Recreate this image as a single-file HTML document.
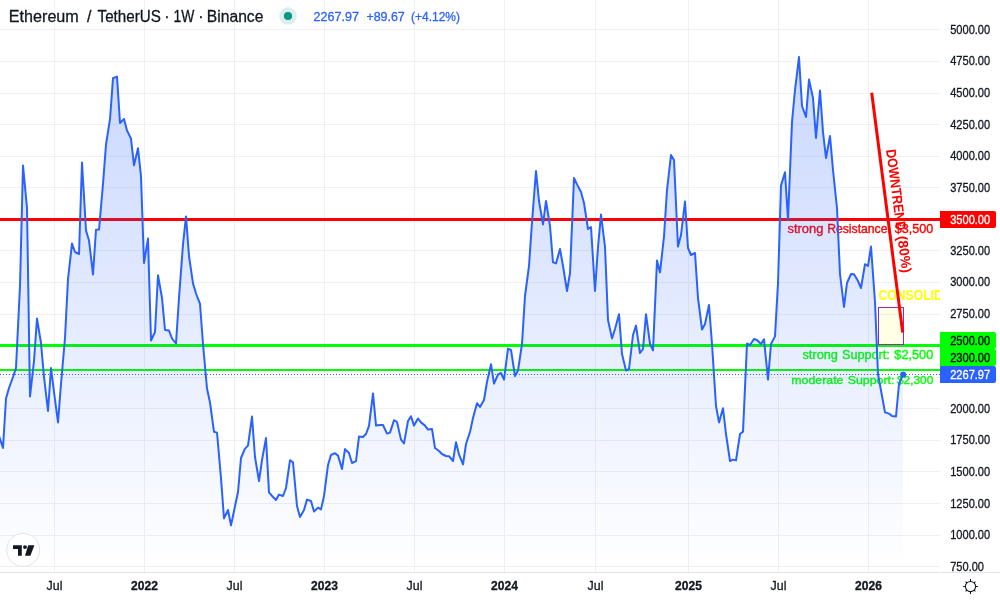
<!DOCTYPE html>
<html lang="en"><head><meta charset="utf-8"><title>Ethereum / TetherUS</title>
<style>
html,body{margin:0;padding:0;background:#fff;}
body{width:1000px;height:600px;overflow:hidden;position:relative;font-family:"Liberation Sans", "DejaVu Sans", sans-serif;}
svg{position:absolute;left:0;top:0;display:block}
text{font-family:"Liberation Sans", "DejaVu Sans", sans-serif;}
.ax{font-size:12px;fill:#131722;stroke:#131722;stroke-width:0.3px;}
.b{font-weight:bold;}
.lbl{stroke-width:0.35px;}
.w{fill:#fff;stroke:#fff;}
.k{fill:#000;stroke:#000;}
</style></head><body>
<svg width="1000" height="600" viewBox="0 0 1000 600">
<defs>
<linearGradient id="ag" gradientUnits="userSpaceOnUse" x1="0" y1="0" x2="0" y2="572">
<stop offset="0" stop-color="#2962ff" stop-opacity="0.28"/>
<stop offset="1" stop-color="#2962ff" stop-opacity="0.0"/>
</linearGradient>
<clipPath id="pane"><rect x="0" y="0" width="940" height="572"/></clipPath>
</defs>
<rect x="0" y="0" width="1000" height="600" fill="#ffffff"/>
<rect x="54" y="0" width="1" height="572" fill="#f0f0f2"/><rect x="144" y="0" width="1" height="572" fill="#f0f0f2"/><rect x="234" y="0" width="1" height="572" fill="#f0f0f2"/><rect x="324" y="0" width="1" height="572" fill="#f0f0f2"/><rect x="414" y="0" width="1" height="572" fill="#f0f0f2"/><rect x="504" y="0" width="1" height="572" fill="#f0f0f2"/><rect x="595" y="0" width="1" height="572" fill="#f0f0f2"/><rect x="688" y="0" width="1" height="572" fill="#f0f0f2"/><rect x="778" y="0" width="1" height="572" fill="#f0f0f2"/><rect x="868" y="0" width="1" height="572" fill="#f0f0f2"/><rect x="0" y="566" width="940" height="1" fill="#f0f0f2"/><rect x="0" y="535" width="940" height="1" fill="#f0f0f2"/><rect x="0" y="503" width="940" height="1" fill="#f0f0f2"/><rect x="0" y="471" width="940" height="1" fill="#f0f0f2"/><rect x="0" y="440" width="940" height="1" fill="#f0f0f2"/><rect x="0" y="408" width="940" height="1" fill="#f0f0f2"/><rect x="0" y="377" width="940" height="1" fill="#f0f0f2"/><rect x="0" y="345" width="940" height="1" fill="#f0f0f2"/><rect x="0" y="314" width="940" height="1" fill="#f0f0f2"/><rect x="0" y="282" width="940" height="1" fill="#f0f0f2"/><rect x="0" y="250" width="940" height="1" fill="#f0f0f2"/><rect x="0" y="219" width="940" height="1" fill="#f0f0f2"/><rect x="0" y="187" width="940" height="1" fill="#f0f0f2"/><rect x="0" y="156" width="940" height="1" fill="#f0f0f2"/><rect x="0" y="124" width="940" height="1" fill="#f0f0f2"/><rect x="0" y="93" width="940" height="1" fill="#f0f0f2"/><rect x="0" y="61" width="940" height="1" fill="#f0f0f2"/><rect x="0" y="29" width="940" height="1" fill="#f0f0f2"/>
<g clip-path="url(#pane)">
<!-- horizontal levels -->
<rect x="0" y="218" width="940" height="3" fill="#ff0000"/>
<rect x="0" y="344" width="940" height="3" fill="#00ff00"/>
<rect x="0" y="369" width="940" height="2" fill="#00ff00"/>
<g class="lbl" font-size="12" fill="#ff0000" stroke="#ff0000"><text x="787.5" y="233" textLength="35.9" lengthAdjust="spacingAndGlyphs">strong</text><text x="827.2" y="233" textLength="63.7" lengthAdjust="spacingAndGlyphs">Resistance:</text><text x="894.7" y="233" textLength="38.6" lengthAdjust="spacingAndGlyphs">$3,500</text></g>
<g class="lbl" font-size="12" fill="#00ff00" stroke="#00ff00"><text x="802.5" y="359" textLength="35.4" lengthAdjust="spacingAndGlyphs">strong</text><text x="842.1" y="359" textLength="47.6" lengthAdjust="spacingAndGlyphs">Support:</text><text x="894.3" y="359" textLength="39.0" lengthAdjust="spacingAndGlyphs">$2,500</text></g>
<g class="lbl" font-size="11.6" fill="#00ff00" stroke="#00ff00"><text x="791.3" y="384" textLength="52.2" lengthAdjust="spacingAndGlyphs">moderate</text><text x="847.7" y="384" textLength="46.8" lengthAdjust="spacingAndGlyphs">Support:</text><text x="897.0" y="384" textLength="36.3" lengthAdjust="spacingAndGlyphs">$2,300</text></g>
<!-- consolidation box -->
<rect x="878.5" y="307.5" width="25" height="37" fill="#ffff00" fill-opacity="0.1" stroke="#9c27b0" stroke-width="1"/>
<text x="878.4" y="299.8" font-size="14" font-weight="bold" fill="#ffff00" textLength="101.5" lengthAdjust="spacingAndGlyphs">CONSOLIDATION</text>
<!-- downtrend -->
<line x1="871.7" y1="92.7" x2="902.7" y2="332.5" stroke="#ff0000" stroke-width="3"/>
<g transform="translate(887.2,212.6) rotate(82.6)" font-size="14" font-weight="bold" fill="#ff0000"><text x="-62.3" y="-7" textLength="81.5" lengthAdjust="spacingAndGlyphs">DOWNTREND</text><text x="25" y="-7" textLength="37.3" lengthAdjust="spacingAndGlyphs">(80%)</text></g>
<!-- series -->
<path d="M-1.00,436.00 L3.00,448.00 L6.00,398.50 L9.00,388.00 L13.00,377.00 L16.00,368.00 L20.00,286.00 L23.00,165.60 L27.00,208.00 L30.00,396.40 L34.00,361.00 L37.00,318.60 L41.00,343.00 L44.00,377.00 L48.00,411.00 L51.00,368.10 L54.00,392.00 L58.00,422.40 L61.00,384.00 L65.00,338.00 L68.00,279.00 L72.00,243.60 L75.00,252.00 L79.00,254.00 L82.00,162.60 L86.00,230.50 L89.00,240.50 L93.00,274.50 L96.00,229.80 L99.00,229.60 L103.00,184.00 L106.00,144.50 L110.00,119.20 L113.00,78.20 L117.00,76.60 L120.00,123.00 L124.00,119.00 L127.00,130.40 L131.00,138.80 L134.00,165.30 L138.00,148.20 L141.00,176.50 L144.00,263.00 L148.00,238.60 L151.00,340.50 L155.00,332.00 L158.00,275.20 L162.00,298.00 L165.00,330.00 L169.00,330.60 L172.00,338.50 L176.00,343.50 L179.00,298.00 L183.00,244.50 L186.00,216.40 L189.00,256.00 L193.00,283.40 L196.00,293.50 L200.00,303.80 L203.00,344.00 L207.00,388.50 L210.00,402.50 L214.00,431.80 L217.00,432.60 L221.00,478.00 L224.00,518.40 L228.00,510.00 L231.00,525.40 L234.00,511.00 L238.00,492.00 L241.00,458.00 L245.00,448.60 L248.00,445.60 L252.00,416.60 L255.00,457.00 L259.00,481.00 L262.00,460.00 L266.00,438.10 L269.00,492.40 L273.00,497.00 L276.00,500.00 L279.00,494.60 L283.00,496.00 L286.00,488.00 L290.00,460.20 L293.00,462.40 L297.00,506.00 L300.00,517.00 L304.00,510.00 L307.00,499.60 L311.00,501.00 L314.00,511.60 L318.00,507.60 L321.00,509.40 L324.00,496.00 L328.00,465.00 L331.00,455.00 L335.00,453.20 L338.00,455.60 L342.00,469.00 L345.00,449.10 L349.00,453.00 L352.00,463.00 L356.00,461.20 L359.00,436.60 L363.00,437.00 L366.00,434.00 L369.00,425.80 L373.00,393.40 L376.00,425.60 L380.00,425.10 L383.00,425.00 L387.00,433.60 L390.00,432.60 L394.00,420.20 L397.00,422.00 L401.00,439.60 L404.00,443.40 L408.00,421.00 L411.00,416.20 L414.00,425.60 L418.00,418.60 L421.00,422.40 L425.00,425.60 L428.00,429.60 L432.00,429.00 L435.00,448.00 L439.00,451.00 L442.00,454.00 L446.00,456.00 L449.00,456.20 L453.00,461.00 L456.00,442.20 L459.00,454.40 L463.00,464.40 L466.00,444.00 L470.00,432.00 L473.00,418.00 L477.00,403.20 L480.00,407.00 L484.00,400.00 L487.00,382.00 L491.00,364.20 L494.00,383.60 L498.00,374.50 L501.00,373.00 L504.00,379.70 L508.00,348.60 L511.00,350.00 L515.00,376.00 L518.00,370.50 L522.00,344.00 L525.00,296.00 L529.00,266.00 L532.00,222.00 L536.00,171.00 L539.00,201.00 L543.00,224.40 L546.00,201.00 L550.00,226.00 L553.00,262.40 L556.00,263.40 L560.00,249.00 L563.00,266.00 L567.00,291.00 L570.00,273.00 L574.00,178.00 L577.00,184.40 L581.00,192.00 L584.00,203.00 L588.00,229.00 L591.00,227.00 L595.00,291.00 L598.00,247.00 L601.00,214.60 L605.00,247.00 L608.00,320.00 L612.00,338.40 L615.00,329.00 L619.00,314.20 L622.00,354.00 L626.00,370.60 L629.00,369.00 L633.00,335.00 L636.00,325.60 L640.00,353.00 L643.00,349.00 L646.00,314.20 L650.00,344.00 L653.00,350.40 L657.00,260.60 L660.00,272.40 L664.00,236.50 L667.00,190.00 L671.00,155.00 L674.00,160.00 L678.00,246.60 L681.00,235.00 L685.00,201.60 L688.00,248.00 L691.00,255.00 L695.00,253.00 L698.00,298.00 L702.00,329.40 L705.00,324.00 L709.00,305.00 L712.00,344.00 L716.00,406.00 L719.00,422.40 L723.00,408.20 L726.00,434.00 L730.00,461.00 L733.00,459.60 L736.00,460.40 L740.00,434.00 L743.00,431.60 L747.00,343.60 L750.00,345.00 L754.00,339.00 L757.00,340.00 L761.00,344.00 L764.00,339.20 L768.00,379.60 L771.00,344.00 L775.00,336.40 L778.00,283.00 L781.00,185.60 L785.00,172.20 L788.00,219.60 L792.00,122.00 L795.00,90.00 L799.00,57.00 L802.00,106.00 L806.00,117.00 L809.00,79.60 L813.00,98.00 L816.00,138.00 L820.00,90.60 L823.00,132.00 L826.00,158.00 L830.00,136.00 L833.00,170.00 L837.00,208.00 L840.00,274.00 L844.00,307.00 L847.00,283.00 L851.00,274.00 L854.00,274.20 L858.00,281.00 L861.00,288.00 L865.00,264.20 L868.00,266.00 L871.00,246.60 L875.00,302.00 L878.00,374.00 L882.00,396.00 L885.00,412.40 L889.00,413.60 L892.00,416.00 L896.00,416.40 L899.00,384.00 L903.00,374.60 L903.00,572 L-1.00,572 Z" fill="url(#ag)"/>
<path d="M-1.00,436.00 L3.00,448.00 L6.00,398.50 L9.00,388.00 L13.00,377.00 L16.00,368.00 L20.00,286.00 L23.00,165.60 L27.00,208.00 L30.00,396.40 L34.00,361.00 L37.00,318.60 L41.00,343.00 L44.00,377.00 L48.00,411.00 L51.00,368.10 L54.00,392.00 L58.00,422.40 L61.00,384.00 L65.00,338.00 L68.00,279.00 L72.00,243.60 L75.00,252.00 L79.00,254.00 L82.00,162.60 L86.00,230.50 L89.00,240.50 L93.00,274.50 L96.00,229.80 L99.00,229.60 L103.00,184.00 L106.00,144.50 L110.00,119.20 L113.00,78.20 L117.00,76.60 L120.00,123.00 L124.00,119.00 L127.00,130.40 L131.00,138.80 L134.00,165.30 L138.00,148.20 L141.00,176.50 L144.00,263.00 L148.00,238.60 L151.00,340.50 L155.00,332.00 L158.00,275.20 L162.00,298.00 L165.00,330.00 L169.00,330.60 L172.00,338.50 L176.00,343.50 L179.00,298.00 L183.00,244.50 L186.00,216.40 L189.00,256.00 L193.00,283.40 L196.00,293.50 L200.00,303.80 L203.00,344.00 L207.00,388.50 L210.00,402.50 L214.00,431.80 L217.00,432.60 L221.00,478.00 L224.00,518.40 L228.00,510.00 L231.00,525.40 L234.00,511.00 L238.00,492.00 L241.00,458.00 L245.00,448.60 L248.00,445.60 L252.00,416.60 L255.00,457.00 L259.00,481.00 L262.00,460.00 L266.00,438.10 L269.00,492.40 L273.00,497.00 L276.00,500.00 L279.00,494.60 L283.00,496.00 L286.00,488.00 L290.00,460.20 L293.00,462.40 L297.00,506.00 L300.00,517.00 L304.00,510.00 L307.00,499.60 L311.00,501.00 L314.00,511.60 L318.00,507.60 L321.00,509.40 L324.00,496.00 L328.00,465.00 L331.00,455.00 L335.00,453.20 L338.00,455.60 L342.00,469.00 L345.00,449.10 L349.00,453.00 L352.00,463.00 L356.00,461.20 L359.00,436.60 L363.00,437.00 L366.00,434.00 L369.00,425.80 L373.00,393.40 L376.00,425.60 L380.00,425.10 L383.00,425.00 L387.00,433.60 L390.00,432.60 L394.00,420.20 L397.00,422.00 L401.00,439.60 L404.00,443.40 L408.00,421.00 L411.00,416.20 L414.00,425.60 L418.00,418.60 L421.00,422.40 L425.00,425.60 L428.00,429.60 L432.00,429.00 L435.00,448.00 L439.00,451.00 L442.00,454.00 L446.00,456.00 L449.00,456.20 L453.00,461.00 L456.00,442.20 L459.00,454.40 L463.00,464.40 L466.00,444.00 L470.00,432.00 L473.00,418.00 L477.00,403.20 L480.00,407.00 L484.00,400.00 L487.00,382.00 L491.00,364.20 L494.00,383.60 L498.00,374.50 L501.00,373.00 L504.00,379.70 L508.00,348.60 L511.00,350.00 L515.00,376.00 L518.00,370.50 L522.00,344.00 L525.00,296.00 L529.00,266.00 L532.00,222.00 L536.00,171.00 L539.00,201.00 L543.00,224.40 L546.00,201.00 L550.00,226.00 L553.00,262.40 L556.00,263.40 L560.00,249.00 L563.00,266.00 L567.00,291.00 L570.00,273.00 L574.00,178.00 L577.00,184.40 L581.00,192.00 L584.00,203.00 L588.00,229.00 L591.00,227.00 L595.00,291.00 L598.00,247.00 L601.00,214.60 L605.00,247.00 L608.00,320.00 L612.00,338.40 L615.00,329.00 L619.00,314.20 L622.00,354.00 L626.00,370.60 L629.00,369.00 L633.00,335.00 L636.00,325.60 L640.00,353.00 L643.00,349.00 L646.00,314.20 L650.00,344.00 L653.00,350.40 L657.00,260.60 L660.00,272.40 L664.00,236.50 L667.00,190.00 L671.00,155.00 L674.00,160.00 L678.00,246.60 L681.00,235.00 L685.00,201.60 L688.00,248.00 L691.00,255.00 L695.00,253.00 L698.00,298.00 L702.00,329.40 L705.00,324.00 L709.00,305.00 L712.00,344.00 L716.00,406.00 L719.00,422.40 L723.00,408.20 L726.00,434.00 L730.00,461.00 L733.00,459.60 L736.00,460.40 L740.00,434.00 L743.00,431.60 L747.00,343.60 L750.00,345.00 L754.00,339.00 L757.00,340.00 L761.00,344.00 L764.00,339.20 L768.00,379.60 L771.00,344.00 L775.00,336.40 L778.00,283.00 L781.00,185.60 L785.00,172.20 L788.00,219.60 L792.00,122.00 L795.00,90.00 L799.00,57.00 L802.00,106.00 L806.00,117.00 L809.00,79.60 L813.00,98.00 L816.00,138.00 L820.00,90.60 L823.00,132.00 L826.00,158.00 L830.00,136.00 L833.00,170.00 L837.00,208.00 L840.00,274.00 L844.00,307.00 L847.00,283.00 L851.00,274.00 L854.00,274.20 L858.00,281.00 L861.00,288.00 L865.00,264.20 L868.00,266.00 L871.00,246.60 L875.00,302.00 L878.00,374.00 L882.00,396.00 L885.00,412.40 L889.00,413.60 L892.00,416.00 L896.00,416.40 L899.00,384.00 L903.00,374.60" fill="none" stroke="#2962ff" stroke-width="2" stroke-linejoin="round" stroke-linecap="round"/>
<!-- current price dotted line -->
<line x1="0" y1="374.5" x2="940" y2="374.5" stroke="#2962ff" stroke-width="1" stroke-dasharray="1 2"/>
<circle cx="903.1" cy="374.6" r="3" fill="#2962ff"/>
</g>
<!-- axes -->
<rect x="0" y="572" width="940" height="1" fill="#e0e3eb"/><rect x="941" y="572" width="59" height="1" fill="#e0e3eb"/>
<text x="950.2" y="570.8" textLength="33.8" lengthAdjust="spacingAndGlyphs" class="ax">750.00</text><text x="950.2" y="538.8" textLength="40" lengthAdjust="spacingAndGlyphs" class="ax">1000.00</text><text x="950.2" y="507.8" textLength="40" lengthAdjust="spacingAndGlyphs" class="ax">1250.00</text><text x="950.2" y="475.8" textLength="40" lengthAdjust="spacingAndGlyphs" class="ax">1500.00</text><text x="950.2" y="443.8" textLength="40" lengthAdjust="spacingAndGlyphs" class="ax">1750.00</text><text x="950.2" y="412.8" textLength="40" lengthAdjust="spacingAndGlyphs" class="ax">2000.00</text><text x="950.2" y="380.8" textLength="40" lengthAdjust="spacingAndGlyphs" class="ax">2250.00</text><text x="950.2" y="317.8" textLength="40" lengthAdjust="spacingAndGlyphs" class="ax">2750.00</text><text x="950.2" y="285.8" textLength="40" lengthAdjust="spacingAndGlyphs" class="ax">3000.00</text><text x="950.2" y="254.8" textLength="40" lengthAdjust="spacingAndGlyphs" class="ax">3250.00</text><text x="950.2" y="191.8" textLength="40" lengthAdjust="spacingAndGlyphs" class="ax">3750.00</text><text x="950.2" y="159.8" textLength="40" lengthAdjust="spacingAndGlyphs" class="ax">4000.00</text><text x="950.2" y="128.8" textLength="40" lengthAdjust="spacingAndGlyphs" class="ax">4250.00</text><text x="950.2" y="96.8" textLength="40" lengthAdjust="spacingAndGlyphs" class="ax">4500.00</text><text x="950.2" y="64.8" textLength="40" lengthAdjust="spacingAndGlyphs" class="ax">4750.00</text><text x="950.2" y="33.8" textLength="40" lengthAdjust="spacingAndGlyphs" class="ax">5000.00</text>
<text x="46.6" y="590" textLength="15.8" lengthAdjust="spacingAndGlyphs" class="ax">Jul</text><text x="131.1" y="590" textLength="26.8" lengthAdjust="spacingAndGlyphs" class="ax b">2022</text><text x="226.6" y="590" textLength="15.8" lengthAdjust="spacingAndGlyphs" class="ax">Jul</text><text x="311.1" y="590" textLength="26.8" lengthAdjust="spacingAndGlyphs" class="ax b">2023</text><text x="406.6" y="590" textLength="15.8" lengthAdjust="spacingAndGlyphs" class="ax">Jul</text><text x="491.1" y="590" textLength="26.8" lengthAdjust="spacingAndGlyphs" class="ax b">2024</text><text x="587.6" y="590" textLength="15.8" lengthAdjust="spacingAndGlyphs" class="ax">Jul</text><text x="675.1" y="590" textLength="26.8" lengthAdjust="spacingAndGlyphs" class="ax b">2025</text><text x="770.6" y="590" textLength="15.8" lengthAdjust="spacingAndGlyphs" class="ax">Jul</text><text x="855.1" y="590" textLength="26.8" lengthAdjust="spacingAndGlyphs" class="ax b">2026</text>
<!-- price boxes -->
<path d="M940,211 h54 a2,2 0 0 1 2,2 v13 a2,2 0 0 1 -2,2 h-54 z" fill="#ff0000"/>
<text x="950.2" y="224.3" textLength="40" lengthAdjust="spacingAndGlyphs" class="ax w">3500.00</text>
<path d="M940,332 h54 a2,2 0 0 1 2,2 v13 a2,2 0 0 1 -2,2 h-54 z" fill="#00ff00"/>
<text x="950.2" y="345.3" textLength="40" lengthAdjust="spacingAndGlyphs" class="ax k">2500.00</text>
<path d="M940,349 h54 a2,2 0 0 1 2,2 v13 a2,2 0 0 1 -2,2 h-54 z" fill="#00ff00"/>
<text x="950.2" y="362.3" textLength="40" lengthAdjust="spacingAndGlyphs" class="ax k">2300.00</text>
<path d="M940,366 h54 a2,2 0 0 1 2,2 v13 a2,2 0 0 1 -2,2 h-54 z" fill="#2962ff"/>
<text x="950.2" y="379.3" textLength="40" lengthAdjust="spacingAndGlyphs" class="ax w">2267.97</text>
<!-- header -->
<g font-size="16" fill="#131722" stroke="#131722" stroke-width="0.3">
<text x="8.8" y="21.6" textLength="70" lengthAdjust="spacingAndGlyphs">Ethereum</text><text x="87.1" y="21.6">/</text><text x="97.6" y="21.6" textLength="63.2" lengthAdjust="spacingAndGlyphs">TetherUS</text><text x="164.3" y="21.6">·</text><text x="173.6" y="21.6" textLength="20.8" lengthAdjust="spacingAndGlyphs">1W</text><text x="198.3" y="21.6">·</text><text x="206.8" y="21.6" textLength="56.6" lengthAdjust="spacingAndGlyphs">Binance</text>
</g>
<circle cx="288" cy="16" r="8.8" fill="#089981" fill-opacity="0.15"/>
<circle cx="288" cy="16" r="4.1" fill="#089981"/>
<text x="313.6" y="21.2" textLength="45.4" lengthAdjust="spacingAndGlyphs" font-size="13" fill="#2962ff" stroke="#2962ff" stroke-width="0.3">2267.97</text>
<text x="366.4" y="21.2" textLength="38.4" lengthAdjust="spacingAndGlyphs" font-size="13" fill="#2962ff" stroke="#2962ff" stroke-width="0.3">+89.67</text>
<text x="411" y="21.2" textLength="49" lengthAdjust="spacingAndGlyphs" font-size="13" fill="#2962ff" stroke="#2962ff" stroke-width="0.3">(+4.12%)</text>
<!-- logo -->
<circle cx="23.2" cy="550" r="16.5" fill="#fff" stroke="#e4e4e6" stroke-width="1"/>
<g fill="#131722">
<path d="M13,545.2 h8.8 v10.6 h-3.8 v-6.8 h-5 z"/>
<circle cx="25" cy="547.1" r="1.95"/>
<path d="M28.2,545.2 L34.4,545.2 L30.4,555.8 L25,555.8 Z"/>
</g>
<!-- gear -->
<g stroke="#131722" stroke-width="1.05" fill="none">
<circle cx="970.5" cy="586.5" r="5.1"/>
<path d="M970.5,581.4 v-2.3 M970.5,591.6 v2.3 M965.4,586.5 h-2.3 M975.6,586.5 h2.3 M966.9,582.9 l-1.3,-1.3 M974.1,582.9 l1.3,-1.3 M966.9,590.1 l-1.3,1.3 M974.1,590.1 l1.3,1.3"/>
</g>
</svg>
</body></html>
